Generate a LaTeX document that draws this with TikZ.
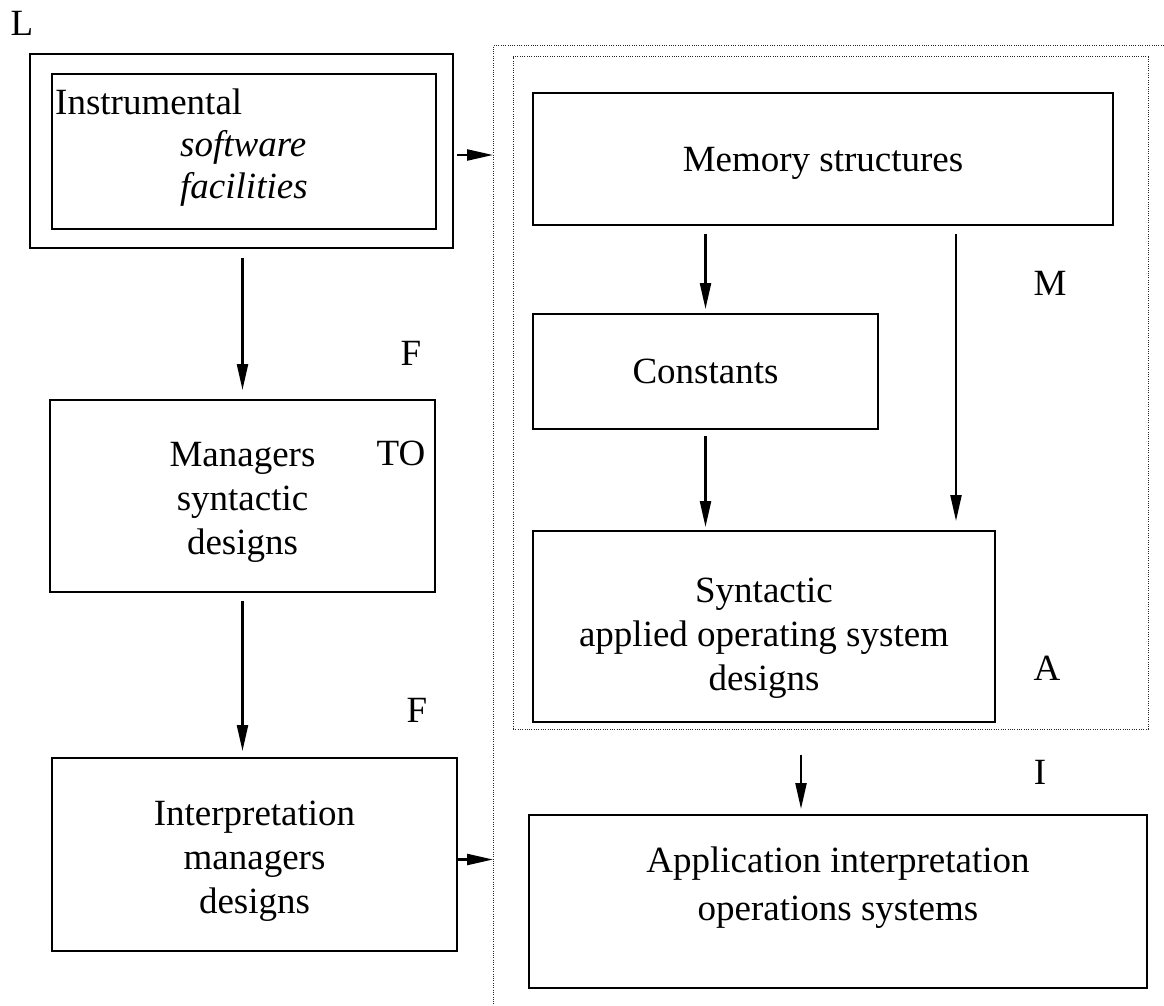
\documentclass[tikz,border=0pt]{standalone}
\usepackage{fontspec}
\setmainfont{Liberation Serif}
\usetikzlibrary{arrows.meta,calc}
\begin{document}
\begin{tikzpicture}[x=1pt,y=-1pt,
  every node/.style={font=\fontsize{37}{44}\selectfont},
  box/.style={draw, line width=2pt, inner sep=0pt},
  txt/.style={inner sep=0pt, align=center},
  arr/.style={line width=2.3pt, -{Triangle[length=26pt,width=11pt]}},
  dotframe/.style={line width=1pt, dash pattern=on 1pt off 1.3pt, black!85},
  lbl/.style={inner sep=0pt}]
\useasboundingbox (0,0) rectangle (1164,1006);

% outer dotted frame (open on right and bottom)
\coordinate (ofa) at (1164,46);
\coordinate (ofc) at (493,46);
\coordinate (ofb) at (493,1006);
\draw[dotframe] (ofa) -- (ofc) -- (ofb);

% inner dotted group
\node[draw, dotframe, inner sep=0pt, minimum width=635pt, minimum height=672pt] (grp) at (830.5,393) {};

% left column
\node[box, minimum width=423pt, minimum height=194pt] (instout) at (241.5,151) {};
\node[box, minimum width=384pt, minimum height=155pt] (inst) at (244,151.5) {};
\node[lbl, anchor=base west] (instA) at (55,114) {Instrumental};
\node[lbl, anchor=base west] (instB) at (180,157) {\textit{software}};
\node[lbl, anchor=base west] (instC) at (180,198) {\textit{facilities}};

\node[box, minimum width=385pt, minimum height=192pt] (mgr) at (242.5,496) {};
\node[txt] (mgrT) at ([yshift=-6pt]mgr.center) {Managers\\syntactic\\designs};
\node[box, minimum width=405pt, minimum height=193pt] (intp) at (254.5,854.5) {};
\node[txt] (intpT) at ([yshift=-7pt]intp.center) {Interpretation\\managers\\designs};

% right column
\node[box, minimum width=580pt, minimum height=132pt] (mem) at (823,159) {};
\node[txt] (memT) at ([yshift=-4pt]mem.center) {Memory structures};
\node[box, minimum width=345pt, minimum height=115pt] (const) at (705.5,371.5) {};
\node[txt] (constT) at (const.center) {Constants};
\node[box, minimum width=462pt, minimum height=191pt] (syn) at (764,626.5) {};
\node[txt] (synT) at ([yshift=-12pt]syn.center) {Syntactic\\applied operating system\\designs};
\node[box, minimum width=618pt, minimum height=173pt] (app) at (838,901.5) {};
\node[txt, font=\fontsize{37}{48}\selectfont] (appT) at ([yshift=14pt]app.center) {Application interpretation\\operations systems};

% letters
\node[lbl] (lL) at (22,23) {L};
\node[lbl] (lF1) at (411,353) {F};
\node[lbl] (lTO) at (401,453) {TO};
\node[lbl] (lF2) at (417,710) {F};
\node[lbl] (lM) at (1050,283) {M};
\node[lbl] (lA) at (1047,668) {A};
\node[lbl] (lI) at (1040,772) {I};

% connectors
\path (instout.east) ++(0,4) coordinate (a1s);
\draw[arr] ([xshift=3pt]a1s) -- (a1s -| ofc);
\draw[arr, shorten <=9pt, shorten >=9pt] (mgr.north |- instout.south) -- (mgr.north);
\draw[arr, shorten <=8pt, shorten >=6pt] (mgr.south) -- (mgr.south |- intp.north);
\path (intp.east) ++(0,5) coordinate (a4s);
\draw[arr] (a4s) -- (a4s -| ofc);

\draw[arr, shorten <=8pt, shorten >=4pt] (const.north |- mem.south) -- (const.north);
\coordinate (c6) at ($(syn.north east)+(-40,0)$);
\draw[arr, shorten <=8pt, shorten >=9pt] (c6 |- mem.south) -- (c6);
\draw[arr, shorten <=6pt, shorten >=3pt] (const.south) -- (const.south |- syn.north);
\coordinate (c8) at ($(app.north)+(-37,0)$);
\draw[arr, shorten <=25pt, shorten >=5pt] (c8 |- grp.south) -- (c8);
\end{tikzpicture}
\end{document}
